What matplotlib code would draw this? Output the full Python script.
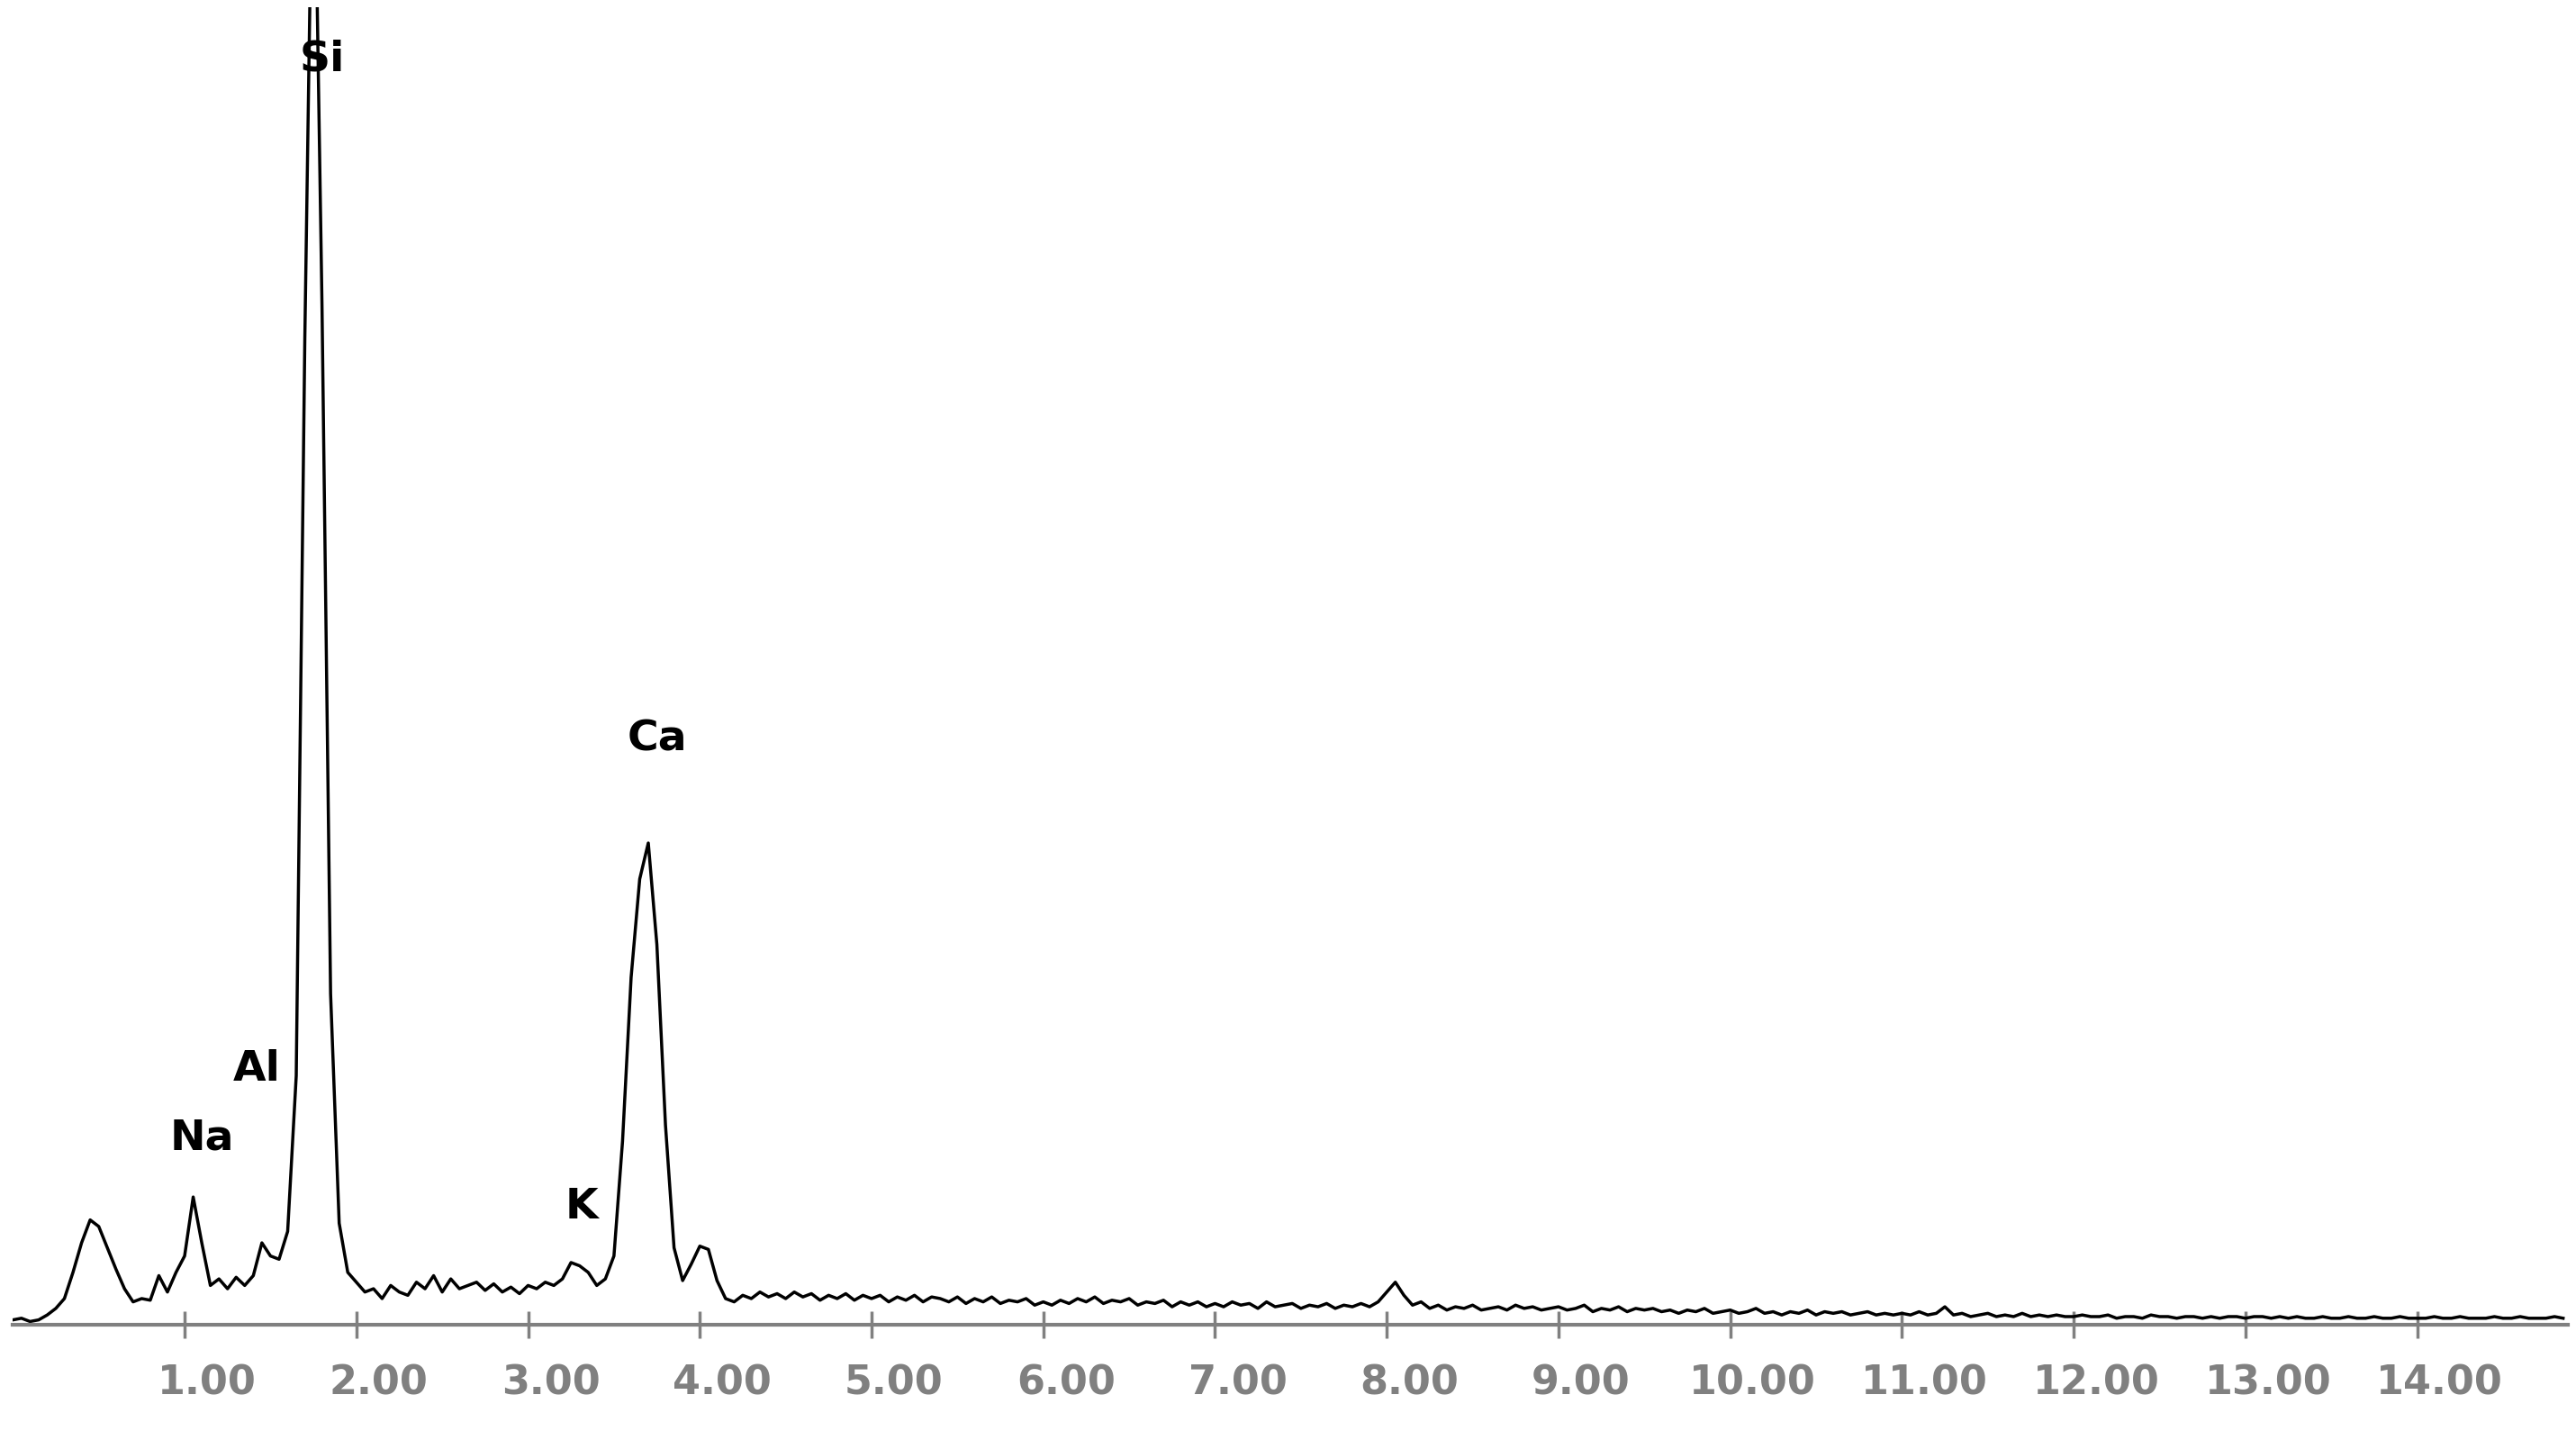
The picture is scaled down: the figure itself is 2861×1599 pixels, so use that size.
import numpy as np
import matplotlib.pyplot as plt
from matplotlib.transforms import ScaledTranslation

# EDS spectrum, counts every 0.05 keV starting at 0.00
counts = [
    1, 2, 0, 1, 4, 8, 14, 30, 48, 62, 58, 45, 32, 20, 12, 14, 13, 28, 18, 30,
    40, 76, 48, 22, 26, 20, 27, 22, 28, 48, 40, 38, 55, 150, 600, 950, 620, 200, 60, 30,
    24, 18, 20, 14, 22, 18, 16, 24, 20, 28, 18, 26, 20, 22, 24, 19, 23, 18, 21, 17,
    22, 20, 24, 22, 26, 36, 34, 30, 22, 26, 40, 110, 210, 270, 292, 230, 120, 45, 25, 35,
    46, 44, 25, 14, 12, 16, 14, 18, 15, 17, 14, 18, 15, 17, 13, 16, 14, 17, 13, 16,
    14, 16, 12, 15, 13, 16, 12, 15, 14, 12, 15, 11, 14, 12, 15, 11, 13, 12, 14, 10,
    12, 10, 13, 11, 14, 12, 15, 11, 13, 12, 14, 10, 12, 11, 13, 9, 12, 10, 12, 9,
    11, 9, 12, 10, 11, 8, 12, 9, 10, 11, 8, 10, 9, 11, 8, 10, 9, 11, 9, 12,
    18, 24, 16, 10, 12, 8, 10, 7, 9, 8, 10, 7, 8, 9, 7, 10, 8, 9, 7, 8,
    9, 7, 8, 10, 6, 8, 7, 9, 6, 8, 7, 8, 6, 7, 5, 7, 6, 8, 5, 6,
    7, 5, 6, 8, 5, 6, 4, 6, 5, 7, 4, 6, 5, 6, 4, 5, 6, 4, 5, 4,
    5, 4, 6, 4, 5, 9, 4, 5, 3, 4, 5, 3, 4, 3, 5, 3, 4, 3, 4, 3,
    3, 4, 3, 3, 4, 2, 3, 3, 2, 4, 3, 3, 2, 3, 3, 2, 3, 2, 3, 3,
    2, 3, 3, 2, 3, 2, 3, 2, 2, 3, 2, 2, 3, 2, 2, 3, 2, 2, 3, 2,
    2, 2, 3, 2, 2, 3, 2, 2, 2, 3, 2, 2, 3, 2, 2, 2, 3, 2,
]
energy = np.arange(len(counts)) * 0.05

peak_names = ["Si", "Al", "Na", "K", "Ca"]
peak_x = [1.80, 1.42, 1.10, 3.31, 3.75]
peak_y = [770, 154, 112, 70, 355]

ticks = np.arange(1, 15)
tick_labels = ["%.2f" % t for t in ticks]

fig = plt.figure(figsize=(28.61, 15.99), dpi=100)
ax = fig.add_axes([0.005, 0.080, 0.992, 0.915])
ax.plot(energy, counts, color="black", lw=2.5)

for name, x, y in zip(peak_names, peak_x, peak_y):
    ax.text(x, y, name, ha="center", va="center", fontsize=34, fontweight="bold")

ax.set_xlim(0, 14.88)
ax.set_ylim(-2, 802)
for s in ["top", "left", "right"]:
    ax.spines[s].set_visible(False)
ax.spines["bottom"].set_color("#808080")
ax.spines["bottom"].set_linewidth(3)
ax.set_yticks([])
ax.set_xticks(ticks)
ax.set_xticklabels(tick_labels, fontsize=32, fontweight="bold", color="#808080")
ax.tick_params(axis="x", direction="inout", length=22, width=2.5, color="#808080", pad=20)
offset = ScaledTranslation(0.25, 0, fig.dpi_scale_trans)
for lab in ax.get_xticklabels():
    lab.set_transform(lab.get_transform() + offset)

fig.savefig("out.png", dpi=100, facecolor="white")
